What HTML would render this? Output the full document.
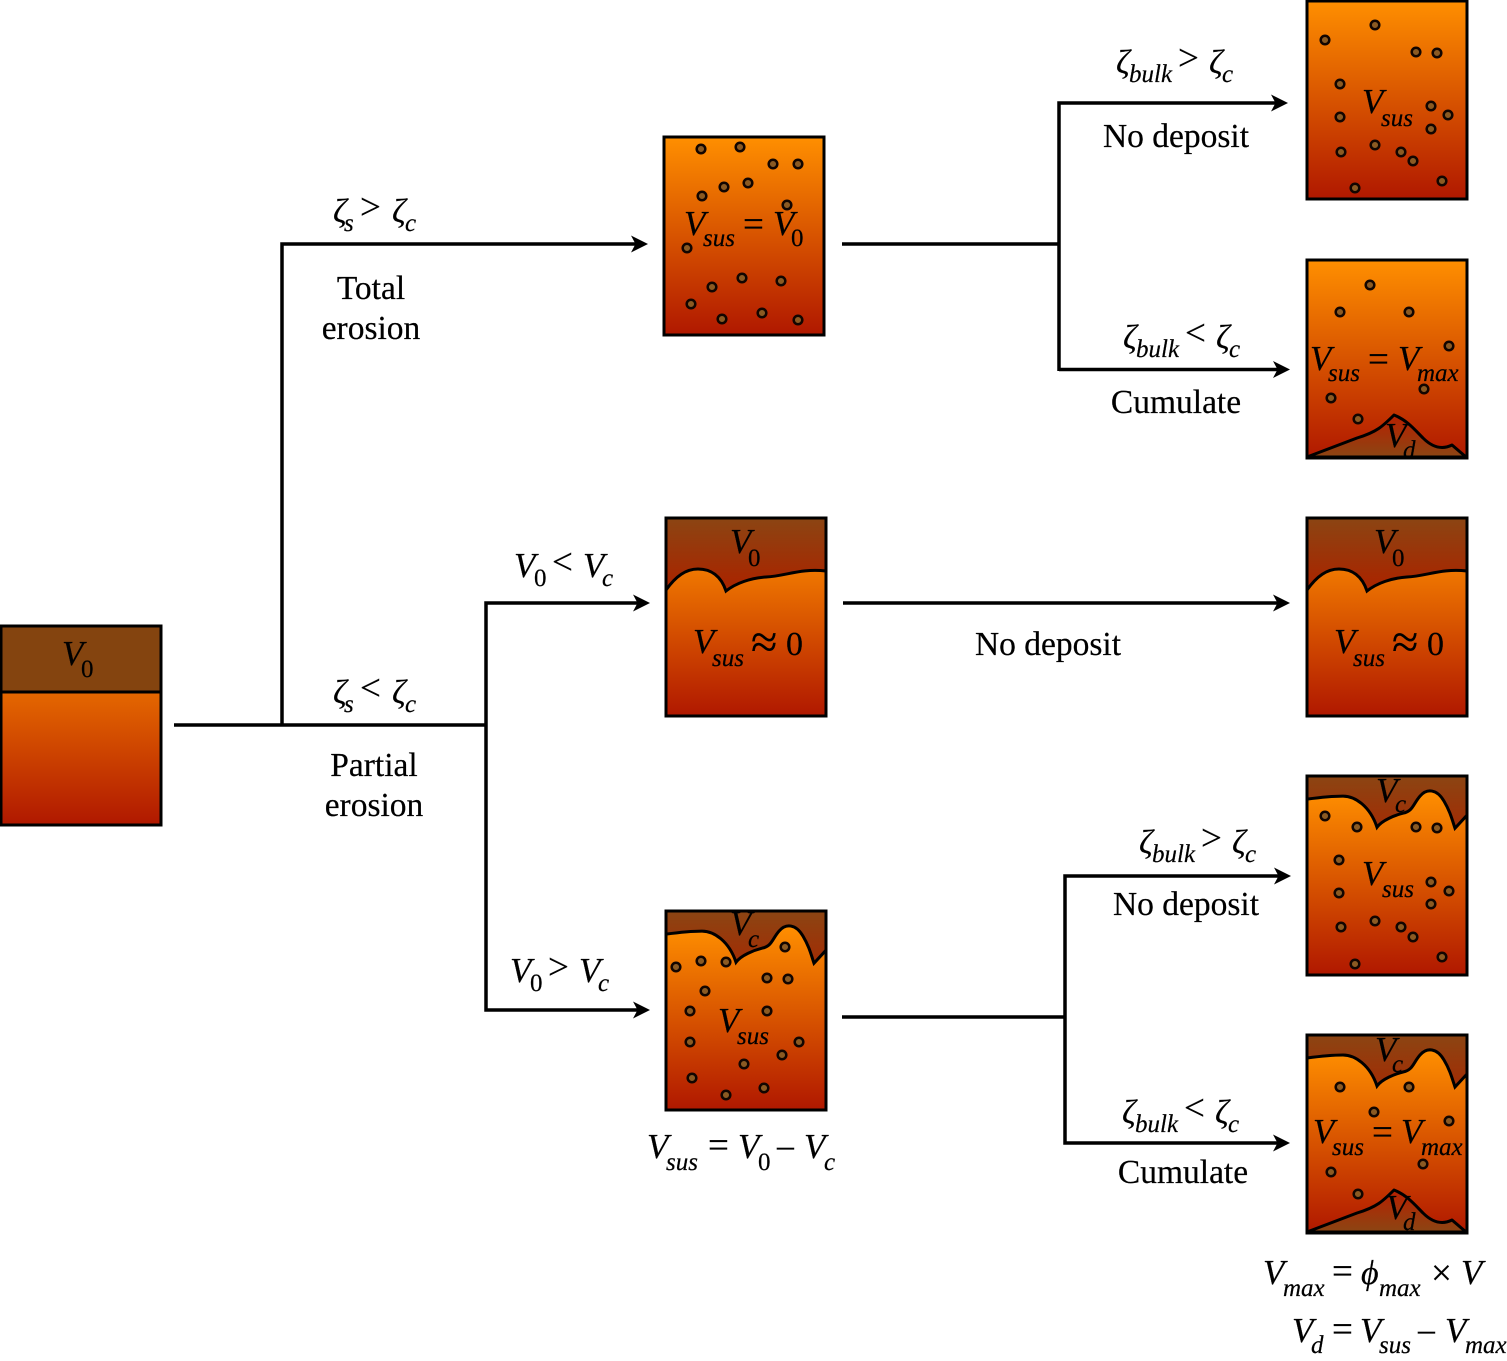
<!DOCTYPE html>
<html>
<head>
<meta charset="utf-8">
<style>
html,body{margin:0;padding:0;background:#fff}
svg{display:block}
text{font-family:"Liberation Serif",serif;fill:#000;stroke:#000;stroke-width:.2px}
.v{font-style:italic;font-size:35px;transform:translateX(-2px)}
.z{font-style:italic;font-size:34px}
.s{font-style:italic;font-size:25px}
.r{font-size:34px}
.op{font-size:37px;transform:translate(-1px,1px)}
.eq{font-size:37px;transform:translate(-1px,1px)}
.ap{font-size:48px}
.n{font-size:25px}
.c{font-size:33.500px;text-anchor:middle}
</style>
</head>
<body>
<svg width="1507" height="1361" viewBox="0 0 1507 1361" xmlns="http://www.w3.org/2000/svg">
<defs>
<linearGradient id="o" x1="0" y1="0" x2="0" y2="1"><stop offset="0" stop-color="#ff8f00"/><stop offset="1" stop-color="#b01800"/></linearGradient>
<linearGradient id="o2" x1="0" y1="0" x2="0" y2="1"><stop offset="0" stop-color="#f07800"/><stop offset="1" stop-color="#b01800"/></linearGradient>
<linearGradient id="b" x1="0" y1="0" x2="0" y2="1"><stop offset="0" stop-color="#8b4513"/><stop offset="0.33" stop-color="#a82600"/><stop offset="1" stop-color="#b01800"/></linearGradient>
<linearGradient id="d" x1="0" y1="0" x2="0" y2="1"><stop offset="0" stop-color="#b82000"/><stop offset="1" stop-color="#8b4513"/></linearGradient>
<path id="wave" d="M0,23 C15,21 28,20 36,20 C48,20 63,30 70,51 C75,44 88,39 96,37 C106,35 106,28 113,20 C120,12 130,13 137,25 C143,35 145,43 148,52 L160,39"/>
<path id="wavef" d="M0,23 C15,21 28,20 36,20 C48,20 63,30 70,51 C75,44 88,39 96,37 C106,35 106,28 113,20 C120,12 130,13 137,25 C143,35 145,43 148,52 L160,39 V198 H0 Z"/>
<path id="bump" d="M0,72 C10,58 20,51 32,51 C45,51 55,58 60,73 C70,65 85,60 100,59 C120,58 135,50 160,53"/>
<path id="bumpf" d="M0,72 C10,58 20,51 32,51 C45,51 55,58 60,73 C70,65 85,60 100,59 C120,58 135,50 160,53 V198 H0 Z"/>
<path id="dep" d="M0,197 L50,178 C70,172 76,166 87,155 C100,160 108,170 116,178 C125,187 135,190 145,185 L159,197 Z"/>
<path id="arr" d="M0,0 L-17,-8.500 L-12.500,0 L-17,8.500 Z"/>
<g id="wbox">
  <rect width="160" height="198" fill="url(#b)"/>
  <use href="#wavef" fill="url(#o)"/>
  <use href="#wave" fill="none" stroke="#000" stroke-width="3"/>
</g>
<g id="bbox">
  <rect width="160" height="198" fill="url(#b)"/>
  <use href="#bumpf" fill="url(#o2)"/>
  <use href="#bump" fill="none" stroke="#000" stroke-width="3"/>
</g>
</defs>

<!-- boxes -->
<g>
<rect x="1" y="626" width="160" height="199" fill="url(#o)"/>
<rect x="1" y="626" width="160" height="66" fill="#84440f"/>
<line x1="1" y1="692" x2="161" y2="692" stroke="#000" stroke-width="3"/>
<rect x="1" y="626" width="160" height="199" fill="none" stroke="#000" stroke-width="3"/>

<rect x="664" y="137" width="160" height="198" fill="url(#o)"/>
<rect x="1307" y="1" width="160" height="198" fill="url(#o)"/>
<rect x="1307" y="260" width="160" height="198" fill="url(#o)"/>
<use href="#dep" transform="translate(1307,260)" fill="url(#d)" stroke="#000" stroke-width="3" stroke-linejoin="round"/>
<use href="#bbox" transform="translate(666,518)"/>
<use href="#bbox" transform="translate(1307,518)"/>
<use href="#wbox" transform="translate(1307,776) scale(1,1.005)"/>
<use href="#wbox" transform="translate(666,911) scale(1,1.005)"/>
<use href="#wbox" transform="translate(1307,1035)"/>
<use href="#dep" transform="translate(1307,1035)" fill="url(#d)" stroke="#000" stroke-width="3" stroke-linejoin="round"/>
<g fill="none" stroke="#000" stroke-width="3">
<rect x="664" y="137" width="160" height="198"/>
<rect x="1307" y="1" width="160" height="198"/>
<rect x="1307" y="260" width="160" height="198"/>
<rect x="666" y="518" width="160" height="198"/>
<rect x="1307" y="518" width="160" height="198"/>
<rect x="1307" y="776" width="160" height="199"/>
<rect x="666" y="911" width="160" height="199"/>
<rect x="1307" y="1035" width="160" height="198"/>
</g>
</g>

<!-- dots -->
<g fill="#8b5a22" stroke="#120500" stroke-width="2.500">
<circle cx="701" cy="149" r="4.300"/><circle cx="740" cy="147" r="4.300"/><circle cx="773" cy="164" r="4.300"/><circle cx="798" cy="164" r="4.300"/><circle cx="724" cy="187" r="4.300"/><circle cx="748" cy="183" r="4.300"/><circle cx="702" cy="196" r="4.300"/><circle cx="787" cy="205" r="4.300"/><circle cx="687" cy="248" r="4.300"/><circle cx="742" cy="278" r="4.300"/><circle cx="781" cy="281" r="4.300"/><circle cx="712" cy="287" r="4.300"/><circle cx="691" cy="304" r="4.300"/><circle cx="722" cy="319" r="4.300"/><circle cx="762" cy="313" r="4.300"/><circle cx="798" cy="320" r="4.300"/>
<circle cx="1325" cy="40" r="4.300"/><circle cx="1375" cy="25" r="4.300"/><circle cx="1416" cy="52" r="4.300"/><circle cx="1437" cy="53" r="4.300"/><circle cx="1340" cy="84" r="4.300"/><circle cx="1340" cy="117" r="4.300"/><circle cx="1431" cy="106" r="4.300"/><circle cx="1448" cy="115" r="4.300"/><circle cx="1431" cy="129" r="4.300"/><circle cx="1341" cy="152" r="4.300"/><circle cx="1375" cy="145" r="4.300"/><circle cx="1401" cy="152" r="4.300"/><circle cx="1413" cy="161" r="4.300"/><circle cx="1442" cy="181" r="4.300"/><circle cx="1355" cy="188" r="4.300"/>
<circle cx="1370" cy="285" r="4.300"/><circle cx="1340" cy="312" r="4.300"/><circle cx="1409" cy="312" r="4.300"/><circle cx="1449" cy="346" r="4.300"/><circle cx="1424" cy="389" r="4.300"/><circle cx="1331" cy="398" r="4.300"/><circle cx="1358" cy="419" r="4.300"/>
<circle cx="1325" cy="816" r="4.300"/><circle cx="1357" cy="827" r="4.300"/><circle cx="1416" cy="827" r="4.300"/><circle cx="1437" cy="828" r="4.300"/><circle cx="1339" cy="860" r="4.300"/><circle cx="1339" cy="893" r="4.300"/><circle cx="1431" cy="882" r="4.300"/><circle cx="1449" cy="891" r="4.300"/><circle cx="1431" cy="904" r="4.300"/><circle cx="1341" cy="927" r="4.300"/><circle cx="1375" cy="921" r="4.300"/><circle cx="1401" cy="927" r="4.300"/><circle cx="1413" cy="937" r="4.300"/><circle cx="1442" cy="957" r="4.300"/><circle cx="1355" cy="964" r="4.300"/>
<circle cx="676" cy="967" r="4.300"/><circle cx="701" cy="961" r="4.300"/><circle cx="726" cy="962" r="4.300"/><circle cx="785" cy="947" r="4.300"/><circle cx="767" cy="978" r="4.300"/><circle cx="788" cy="979" r="4.300"/><circle cx="705" cy="991" r="4.300"/><circle cx="690" cy="1011" r="4.300"/><circle cx="767" cy="1011" r="4.300"/><circle cx="690" cy="1042" r="4.300"/><circle cx="799" cy="1042" r="4.300"/><circle cx="782" cy="1055" r="4.300"/><circle cx="744" cy="1064" r="4.300"/><circle cx="692" cy="1078" r="4.300"/><circle cx="726" cy="1095" r="4.300"/><circle cx="764" cy="1088" r="4.300"/>
<circle cx="1340" cy="1087" r="4.300"/><circle cx="1409" cy="1087" r="4.300"/><circle cx="1374" cy="1112" r="4.300"/><circle cx="1449" cy="1121" r="4.300"/><circle cx="1423" cy="1164" r="4.300"/><circle cx="1331" cy="1172" r="4.300"/><circle cx="1358" cy="1194" r="4.300"/>
</g>

<!-- connectors -->
<g fill="none" stroke="#000" stroke-width="3.500">
<path d="M174,725 H486"/>
<path d="M282,725 V244 H638"/>
<path d="M640,603 H486 V1010 H640"/>
<path d="M842,244 H1059"/>
<path d="M1278,103 H1059 V371 M1059,369.500 H1280"/>
<path d="M843,603 H1280"/>
<path d="M842,1017 H1065"/>
<path d="M1281,876 H1065 V1143 H1280"/>
</g>
<g fill="#000">
<use href="#arr" transform="translate(648,244)"/>
<use href="#arr" transform="translate(650,603)"/>
<use href="#arr" transform="translate(650,1010)"/>
<use href="#arr" transform="translate(1288,103)"/>
<use href="#arr" transform="translate(1290,369.500)"/>
<use href="#arr" transform="translate(1290,603)"/>
<use href="#arr" transform="translate(1291,876)"/>
<use href="#arr" transform="translate(1290,1143)"/>
</g>

<!-- plain labels -->
<text class="c" x="371" y="299">Total</text>
<text class="c" x="371" y="339">erosion</text>
<text class="c" x="374" y="776">Partial</text>
<text class="c" x="374" y="816">erosion</text>
<text class="c" x="1176" y="147">No deposit</text>
<text class="c" x="1176" y="413">Cumulate</text>
<text class="c" x="1048" y="655">No deposit</text>
<text class="c" x="1186" y="915">No deposit</text>
<text class="c" x="1183" y="1183">Cumulate</text>

<!-- zeta conditions -->
<text class="z" x="333" y="222">ζ</text><text class="s" x="344" y="231">s</text><text class="op" x="361" y="218">&gt;</text><text class="z" x="392" y="222">ζ</text><text class="s" x="405" y="231">c</text>
<text class="z" x="333" y="703">ζ</text><text class="s" x="344" y="712">s</text><text class="op" x="361" y="699">&lt;</text><text class="z" x="392" y="703">ζ</text><text class="s" x="405" y="712">c</text>

<text class="z" x="1116" y="73">ζ</text><text class="s" x="1129" y="82">bulk</text><text class="op" x="1179" y="69">&gt;</text><text class="z" x="1209" y="73">ζ</text><text class="s" x="1222" y="82">c</text>
<text class="z" x="1123" y="348">ζ</text><text class="s" x="1136" y="357">bulk</text><text class="op" x="1186" y="344">&lt;</text><text class="z" x="1216" y="348">ζ</text><text class="s" x="1229" y="357">c</text>
<text class="z" x="1139" y="853">ζ</text><text class="s" x="1152" y="862">bulk</text><text class="op" x="1202" y="849">&gt;</text><text class="z" x="1232" y="853">ζ</text><text class="s" x="1245" y="862">c</text>
<text class="z" x="1122" y="1123">ζ</text><text class="s" x="1135" y="1132">bulk</text><text class="op" x="1185" y="1119">&lt;</text><text class="z" x="1215" y="1123">ζ</text><text class="s" x="1228" y="1132">c</text>

<text class="v" x="516" y="577">V</text><text class="n" x="534" y="586">0</text><text class="op" x="553" y="573">&lt;</text><text class="v" x="585" y="577">V</text><text class="s" x="602" y="586">c</text>
<text class="v" x="512" y="982">V</text><text class="n" x="530" y="991">0</text><text class="op" x="549" y="978">&gt;</text><text class="v" x="581" y="982">V</text><text class="s" x="598" y="991">c</text>

<!-- box labels -->
<text class="v" x="64" y="665">V</text><text class="n" x="81" y="677">0</text>

<text class="v" x="686" y="235">V</text><text class="s" x="703" y="246">sus</text><text class="eq" x="744" y="235">=</text><text class="v" x="775" y="235">V</text><text class="n" x="791" y="246">0</text>
<text class="v" x="1364" y="113">V</text><text class="s" x="1381" y="126">sus</text>

<text class="v" x="1312" y="370">V</text><text class="s" x="1328" y="381">sus</text><text class="eq" x="1369" y="370">=</text><text class="v" x="1400" y="370">V</text><text class="s" x="1417" y="381">max</text>
<text class="v" x="1387" y="447">V</text><text class="s" x="1403" y="458">d</text>

<text class="v" x="732" y="553">V</text><text class="n" x="748" y="566">0</text>
<text class="v" x="695" y="653">V</text><text class="s" x="712" y="666">sus</text><text class="ap" x="751" y="658">≈</text><text class="r" x="786" y="655">0</text>
<text class="v" x="1376" y="553">V</text><text class="n" x="1392" y="566">0</text>
<text class="v" x="1336" y="653">V</text><text class="s" x="1353" y="666">sus</text><text class="ap" x="1392" y="658">≈</text><text class="r" x="1427" y="655">0</text>

<text class="v" x="1378" y="802">V</text><text class="s" x="1395" y="812">c</text>
<text class="v" x="1364" y="885">V</text><text class="s" x="1382" y="897">sus</text>

<text class="v" x="732" y="935">V</text><text class="s" x="748" y="947">c</text>
<text class="v" x="720" y="1032">V</text><text class="s" x="737" y="1044">sus</text>

<text class="v" x="1315" y="1143">V</text><text class="s" x="1332" y="1155">sus</text><text class="eq" x="1373" y="1143">=</text><text class="v" x="1403" y="1143">V</text><text class="s" x="1421" y="1155">max</text>
<text class="v" x="1377" y="1061">V</text><text class="s" x="1392" y="1072">c</text>
<text class="v" x="1388" y="1219">V</text><text class="s" x="1403" y="1230">d</text>

<!-- equations -->
<text class="v" x="649" y="1158">V</text><text class="s" x="666" y="1170">sus</text><text class="eq" x="709" y="1156">=</text><text class="v" x="740" y="1158">V</text><text class="n" x="758" y="1170">0</text><text class="eq" x="776" y="1160">−</text><text class="v" x="806" y="1158">V</text><text class="s" x="824" y="1170">c</text>

<text class="v" x="1265" y="1284">V</text><text class="s" x="1283" y="1296">max</text><text class="eq" x="1333" y="1282">=</text><text class="z" x="1361" y="1284">ϕ</text><text class="s" x="1379" y="1296">max</text><text class="eq" x="1432" y="1284">×</text><text class="v" x="1463" y="1284">V</text>
<text class="v" x="1294" y="1342">V</text><text class="s" x="1311" y="1353">d</text><text class="eq" x="1333" y="1340">=</text><text class="v" x="1362" y="1342">V</text><text class="s" x="1379" y="1353">sus</text><text class="eq" x="1417" y="1344">−</text><text class="v" x="1447" y="1342">V</text><text class="s" x="1465" y="1353">max</text>
</svg>
</body>
</html>
